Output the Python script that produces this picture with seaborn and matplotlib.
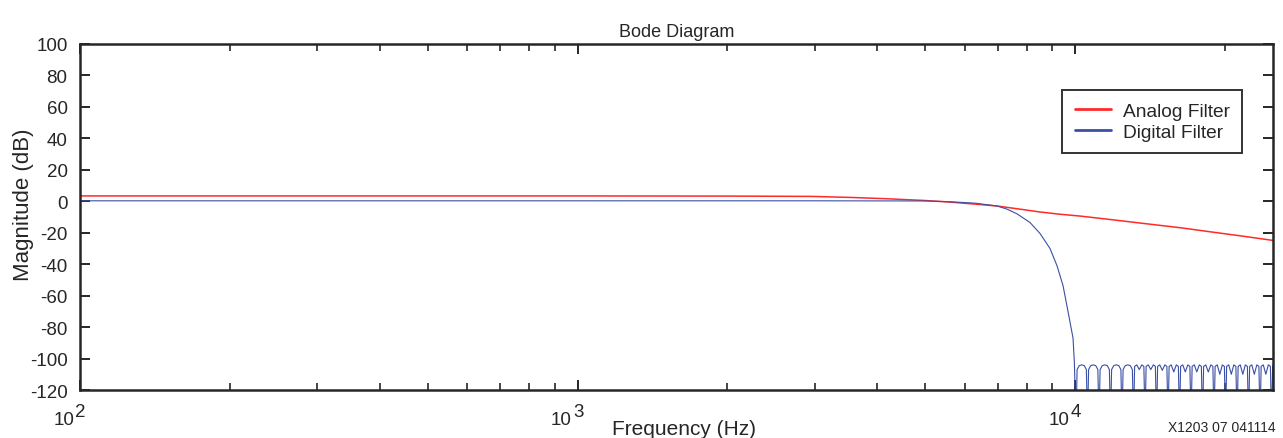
import numpy as np
import pandas as pd
import seaborn as sns
import matplotlib.pyplot as plt
from matplotlib.ticker import LogLocator, NullFormatter

# Analog filter
analog_freq = [100, 300, 1000, 2000, 2950, 3580, 4190, 4990, 5600, 6300, 6970,
               7750, 8500, 9300, 10240, 12000, 14000, 16260, 19000, 22000, 25000]
analog_db = [3.4, 3.4, 3.4, 3.3, 3.1, 2.4, 1.6, 0.5, -0.5, -1.8, -3.0,
             -5.0, -6.8, -8.2, -9.4, -11.9, -14.4, -16.8, -19.7, -22.4, -24.9]

# Digital filter: passband + transition
digital_pass_freq = [100, 1000, 3000, 5000, 5600, 6300, 6970, 7300, 7645, 8120, 8505,
                     8906, 9200, 9460, 9680, 9908, 9968, 10000, 10046]
digital_pass_db = [0.3, 0.3, 0.3, 0.2, -0.3, -1.2, -3.0, -5.0, -8.0, -13.5, -20.5,
                   -30.0, -41.0, -53.6, -70.0, -87.0, -102.0, -118.0, -140.0]

# Digital filter: stopband ripple (arches between nulls)
stop_freq = [10096, 10197, 10317, 10438, 10538, 10595,
             10648, 10754, 10881, 11008, 11114, 11175,
             11231, 11343, 11477, 11611, 11723, 11786,
             11845, 11963, 12104, 12246, 12364, 12430,
             12492, 12616, 12766, 12915, 13039, 13110,
             13176, 13307, 13464, 13621, 13752, 13827,
             13896, 14034, 14200, 14366, 14505, 14583,
             14656, 14802, 14977, 15152, 15298, 15380,
             15457, 15611, 15795, 15980, 16134, 16221,
             16302, 16464, 16659, 16854, 17016, 17108,
             17194, 17365, 17570, 17775, 17946, 18044,
             18134, 18315, 18531, 18748, 18928, 19031,
             19126, 19316, 19545, 19773, 19964, 20071,
             20171, 20372, 20613, 20854, 21054, 21169,
             21275, 21487, 21741, 21995, 22206, 22327,
             22439, 22662, 22930, 23198, 23421, 23548,
             23666, 23901, 24184, 24466, 24702, 24835,
             24959, 25000]
stop_db = [-107, -104.5, -104, -104.5, -107, -140,
           -107, -104.5, -104, -104.5, -107, -140,
           -107, -104.5, -104, -104.5, -107, -140,
           -107, -104.5, -104, -104.5, -107, -140,
           -107, -104.5, -104, -104.5, -107, -140,
           -105, -104, -107, -104, -105, -140,
           -105, -104, -107, -104, -105, -140,
           -105, -104, -107.5, -104, -105, -140,
           -105, -104, -108.5, -104, -105, -140,
           -105, -104, -108.5, -104, -105, -140,
           -105, -104, -108.5, -104, -105, -140,
           -105, -104, -108.5, -104, -105, -140,
           -105, -104, -110, -104, -105, -140,
           -105, -104, -110, -104, -105, -140,
           -105, -104, -110, -104, -105, -140,
           -105, -104, -110, -104, -105, -140,
           -105, -104, -110, -104, -105, -140,
           -105, -104]

yticks = list(range(-120, 101, 20))
x_decades = [2, 3, 4]

sns.set_style('ticks')
plt.rcParams['font.family'] = ['Liberation Sans', 'DejaVu Sans']
plt.rcParams['axes.unicode_minus'] = False

analog = pd.DataFrame({'freq': analog_freq, 'db': analog_db})
digital = pd.DataFrame({'freq': digital_pass_freq + stop_freq,
                        'db': digital_pass_db + stop_db})

fig = plt.figure(figsize=(12.83, 4.39), dpi=100)
ax = fig.add_axes([0.0624, 0.1093, 0.9298, 0.7882])

sns.lineplot(data=analog, x='freq', y='db', ax=ax, color='#ff2a2a',
             linewidth=1.1, label='Analog Filter', estimator=None, sort=False)
sns.lineplot(data=digital, x='freq', y='db', ax=ax, color='#3b4fa6',
             linewidth=0.8, label='Digital Filter', estimator=None, sort=False)

ax.set_xscale('log')
ax.set_xlim(100, 25000)
ax.set_ylim(-120, 100)
ax.set_yticks(yticks)
ax.set_xticks([10 ** d for d in x_decades])
ax.xaxis.set_major_formatter(NullFormatter())
ax.xaxis.set_minor_locator(LogLocator(base=10, subs=np.arange(2, 10), numticks=20))
ax.xaxis.set_minor_formatter(NullFormatter())
ax.tick_params(axis='both', which='major', direction='in', length=7.5, width=1.4,
               top=True, right=True, labelsize=13.5, pad=9)
ax.tick_params(axis='x', which='minor', direction='in', length=5, width=1.2,
               top=True, bottom=True)
for s in ax.spines.values():
    s.set_linewidth(1.8)
    s.set_visible(True)

# decade labels with full-size exponent, like the original
for d in x_decades:
    ax.annotate('10', xy=(10 ** d, 0), xycoords=('data', 'axes fraction'),
                xytext=(-4, -21), textcoords='offset points',
                ha='right', va='center', fontsize=13.5)
    ax.annotate(str(d), xy=(10 ** d, 0), xycoords=('data', 'axes fraction'),
                xytext=(-3.3, -15.8), textcoords='offset points',
                ha='left', va='center', fontsize=13.5)

ax.set_title('Bode Diagram', fontsize=13, pad=6)
ax.set_ylabel('Magnitude (dB)', fontsize=16)
ax.yaxis.set_label_coords(-0.039, 0.538)
ax.set_xlabel('Frequency (Hz)', fontsize=15)
ax.xaxis.set_label_coords(0.506, -0.083)

leg = ax.legend(loc='upper right', bbox_to_anchor=(0.974, 0.867), fontsize=13.8,
                frameon=True, fancybox=False, handlelength=1.9, borderpad=0.65,
                labelspacing=0.18, handletextpad=0.6, borderaxespad=0)
leg.get_frame().set_edgecolor('black')
leg.get_frame().set_linewidth(1.4)
for line in leg.get_lines():
    line.set_linewidth(2.0)

fig.text(0.994, 0.025, 'X1203 07 041114', fontsize=10, ha='right', va='center')

plt.savefig('out.png', dpi=100)
